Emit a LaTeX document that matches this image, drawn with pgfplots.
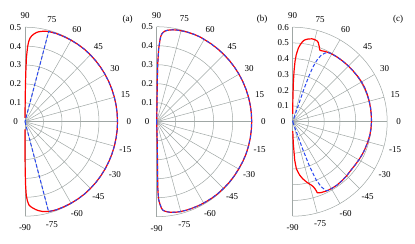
\documentclass[border=0pt]{standalone}
\usepackage{fontspec}
\setmainfont{Liberation Serif}
\usepackage{pgfplots}
\pgfplotsset{compat=1.18}
\definecolor{gridc}{RGB}{160,167,165}
\definecolor{bl}{RGB}{40,70,240}
\definecolor{rd}{RGB}{255,0,0}
\tikzset{lab/.style={font=\fontsize{9bp}{10bp}\selectfont, inner sep=0pt},
 g/.style={draw=gridc, line width=0.5bp}}
\pgfplotsset{pol/.style={hide axis, scale only axis, clip=false, anchor=south west,
  xmin=0, xmax=#1, ymin=-#1, ymax=#1},
  redl/.style={rd, line width=1.2bp, data cs=polar, line join=round},
  bluel/.style={bl, line width=1bp, dash pattern=on 3.5bp off 2bp, data cs=polar}}
\begin{document}
\begin{tikzpicture}
\useasboundingbox (0,0) rectangle (415bp,244bp);
% ---------------- (a)
\begin{axis}[pol=0.5, width=92.5bp, height=189bp, at={(25bp,27.8bp)}]
  \pgfplotsinvokeforeach{0.1,0.2,0.3,0.4,0.5}{
    \draw[g] (axis cs:0,#1) arc[start angle=90,end angle=-90,x radius=#1*185bp,y radius=#1*189bp];
  }
  \pgfplotsinvokeforeach{-90,-75,...,90}{
    \draw[g] (axis cs:0,0) -- (axis cs:{0.5*cos(#1)},{0.5*sin(#1)});
    \node[lab] at (axis cs:{0.561*cos(#1)},{0.561*sin(#1)}) {#1};
  }
  \pgfplotsinvokeforeach{0,0.1,0.2,0.3,0.4,0.5}{
    \node[lab, xshift=-9.5bp] at (axis cs:0,#1) {#1};
  }
  \addplot[redl] coordinates {
    (-90,0.04) (-90,0.15) (-89.8,0.25) (-89.5,0.33) (-89,0.39) (-88.2,0.42)
    (-87.3,0.44) (-86.3,0.449) (-85,0.457) (-83,0.468) (-81.5,0.475) (-80,0.48) (-78.5,0.485)
    (-77,0.488) (-75,0.492) (-72.5,0.494) (-70,0.496) (-65,0.497) (-60,0.498)
    (-55,0.499) (-50,0.5) (-45,0.5) (-40,0.5) (-35,0.5) (-30,0.5) (-25,0.5)
    (-20,0.5) (-15,0.5) (-10,0.5) (-5,0.5) (0,0.5) (5,0.5) (10,0.5) (15,0.5)
    (20,0.5) (25,0.5) (30,0.5) (35,0.5) (40,0.5) (45,0.5) (50,0.5) (55,0.499)
    (60,0.498) (65,0.497) (70,0.496) (72.5,0.495) (75,0.494) (77,0.491) (79,0.487) (81,0.482)
    (82.5,0.476) (84,0.467) (85.5,0.455) (86.5,0.443) (87.3,0.425) (88,0.395) (88.7,0.34) (89.1,0.25)
    (89.4,0.15) (89.7,0.06) (90,0.02)};
  \addplot[bluel] coordinates {
    (-75,0) (-75,0.492) (-72.5,0.494) (-70,0.496) (-65,0.497) (-60,0.498)
    (-55,0.499) (-50,0.5) (-45,0.5) (-40,0.5) (-35,0.5) (-30,0.5) (-25,0.5)
    (-20,0.5) (-15,0.5) (-10,0.5) (-5,0.5) (0,0.5) (5,0.5) (10,0.5) (15,0.5)
    (20,0.5) (25,0.5) (30,0.5) (35,0.5) (40,0.5) (45,0.5) (50,0.5) (55,0.499)
    (60,0.498) (65,0.497) (70,0.496) (72.5,0.495) (75,0.494) (75,0)};
\end{axis}
% ---------------- (b)
\begin{axis}[pol=0.5, width=95bp, height=190bp, at={(156.7bp,27.3bp)}]
  \pgfplotsinvokeforeach{0.1,0.2,0.3,0.4,0.5}{
    \draw[g] (axis cs:0,#1) arc[start angle=90,end angle=-90,x radius=#1*190bp,y radius=#1*190bp];
  }
  \pgfplotsinvokeforeach{-90,-75,...,90}{
    \draw[g] (axis cs:0,0) -- (axis cs:{0.5*cos(#1)},{0.5*sin(#1)});
    \node[lab] at (axis cs:{0.561*cos(#1)},{0.561*sin(#1)}) {#1};
  }
  \pgfplotsinvokeforeach{0,0.1,0.2,0.3,0.4,0.5}{
    \node[lab, xshift=-9.5bp] at (axis cs:0,#1) {#1};
  }
  \addplot[redl] coordinates {
    (-90,0) (-88.5,0.12) (-89,0.25) (-89.1,0.35) (-88.6,0.41) (-87.7,0.435)
    (-86.9,0.455) (-86.1,0.466) (-85,0.472) (-83.5,0.477) (-81.6,0.482) (-78,0.487) (-75.5,0.489)
    (-72,0.491) (-69.2,0.492) (-65,0.493) (-62.5,0.494) (-58,0.495) (-54,0.496)
    (-50,0.497) (-45,0.497) (-40,0.498) (-35,0.498) (-30,0.498) (-25,0.499)
    (-20,0.5) (-15,0.5) (-10,0.5) (-5,0.5) (0,0.5) (5,0.5) (10,0.5) (15,0.5)
    (20,0.5) (25,0.5) (30,0.5) (35,0.5) (40,0.5) (45,0.5) (50,0.5) (55,0.5)
    (60,0.5) (63,0.501) (67,0.5) (71.4,0.498) (74.5,0.496) (77.7,0.494) (80,0.491) (81.7,0.488)
    (83.4,0.484) (84.8,0.479) (85.9,0.471) (86.7,0.462) (87.3,0.449)
    (87.7,0.43) (88.5,0.38) (89,0.3) (89.2,0.2) (89,0.1) (90,0)};
  \addplot[bluel] coordinates {
    (-90,0) (-88.5,0.12) (-89,0.25) (-89.1,0.35) (-88.6,0.41) (-87.7,0.435)
    (-86.9,0.455) (-86.1,0.466) (-85,0.472) (-83.5,0.477) (-81.6,0.482) (-78,0.487) (-75.5,0.489)
    (-72,0.491) (-69.2,0.492) (-65,0.493) (-62.5,0.494) (-58,0.495) (-54,0.496)
    (-50,0.497) (-45,0.497) (-40,0.498) (-35,0.498) (-30,0.498) (-25,0.499)
    (-20,0.5) (-15,0.5) (-10,0.5) (-5,0.5) (0,0.5) (5,0.5) (10,0.5) (15,0.5)
    (20,0.5) (25,0.5) (30,0.5) (35,0.5) (40,0.5) (45,0.5) (50,0.5) (55,0.5)
    (60,0.5) (63,0.501) (67,0.5) (71.4,0.498) (74.5,0.496) (77.7,0.494) (80,0.491) (81.7,0.488)
    (83.4,0.484) (84.8,0.479) (85.9,0.471) (86.7,0.462) (87.3,0.449)
    (87.7,0.43) (88.5,0.38) (89,0.3) (89.2,0.2) (89,0.1) (90,0)};
\end{axis}
% ---------------- (c)
\begin{axis}[pol=0.6, width=94.5bp, height=189bp, at={(292.7bp,27.8bp)}]
  \pgfplotsinvokeforeach{0.1,0.2,0.3,0.4,0.5,0.6}{
    \draw[g] (axis cs:0,#1) arc[start angle=90,end angle=-90,x radius=#1*157.5bp,y radius=#1*157.5bp];
  }
  \pgfplotsinvokeforeach{-90,-75,...,90}{
    \draw[g] (axis cs:0,0) -- (axis cs:{0.6*cos(#1)},{0.6*sin(#1)});
    \node[lab] at (axis cs:{0.673*cos(#1)},{0.673*sin(#1)}) {#1};
  }
  \pgfplotsinvokeforeach{0,0.1,0.2,0.3,0.4,0.5,0.6}{
    \node[lab, xshift=-9.5bp] at (axis cs:0,#1) {#1};
  }
  \addplot[redl] coordinates {
    (-89.5,0.06) (-88.4,0.14) (-87,0.245) (-85.6,0.298) (-84,0.322) (-82.5,0.343)
    (-80,0.368) (-77.2,0.392) (-75.3,0.407) (-73.6,0.42) (-72.5,0.432) (-71.7,0.447) (-71.2,0.462) (-70.9,0.478)
    (-69.5,0.482) (-67.9,0.485) (-65,0.488) (-62.7,0.49) (-59,0.491) (-55,0.491) (-50,0.488) (-45,0.485)
    (-39,0.481) (-35,0.482) (-30,0.485) (-25,0.488) (-21.8,0.49) (-15,0.494)
    (-10,0.497) (-5,0.499) (0,0.5) (5,0.501) (10,0.502) (15,0.503) (20,0.504) (25,0.505) (30,0.505)
    (35,0.503) (40,0.501) (45,0.5) (50,0.499) (55,0.498) (58,0.497) (61,0.496)
    (63,0.494) (65.2,0.491) (67,0.488) (68,0.486) (69,0.485) (69.7,0.492) (70.3,0.503) (71.3,0.516) (72,0.527) (73,0.535)
    (75,0.54) (77,0.54) (79.5,0.534) (81.4,0.526) (82.5,0.518) (83.5,0.505) (84.6,0.488) (85.6,0.469)
    (87,0.425) (87.8,0.383) (88.5,0.32) (89,0.25) (89.5,0.15) (90,0.05)};
  \addplot[bluel] coordinates {
    (-70,0) (-70,0.19) (-69.3,0.306) (-68,0.40) (-66.3,0.452) (-64,0.489)
    (-62.7,0.49) (-59,0.491) (-55,0.491) (-50,0.488) (-45,0.485)
    (-39,0.481) (-35,0.482) (-30,0.485) (-25,0.488) (-21.8,0.49) (-15,0.494)
    (-10,0.497) (-5,0.499) (0,0.5) (5,0.501) (10,0.502) (15,0.503) (20,0.504) (25,0.505) (30,0.505)
    (35,0.503) (40,0.501) (45,0.5) (50,0.499) (55,0.498) (58,0.497) (61,0.496)
    (63,0.493) (65,0.48) (67,0.455) (68.5,0.42) (69.7,0.37) (70.5,0.3) (71,0.22) (71,0.12) (71,0)};
\end{axis}
\node[lab] at (127.5bp,225bp) {(a)};
\node[lab] at (262bp,225bp) {(b)};
\node[lab] at (398bp,225bp) {(c)};
\end{tikzpicture}
\end{document}
